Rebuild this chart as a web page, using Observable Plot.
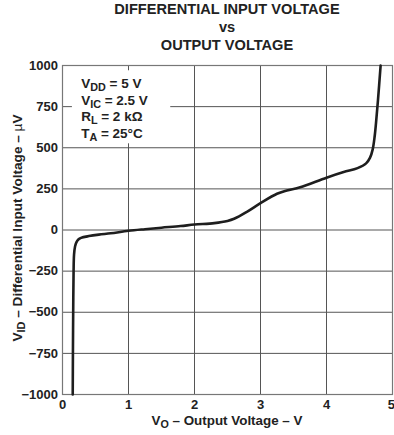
<!DOCTYPE html>
<html>
<head>
<meta charset="utf-8">
<script src="https://cdn.jsdelivr.net/npm/d3@7"></script>
<script src="https://cdn.jsdelivr.net/npm/@observablehq/plot@0.6"></script>
<style>
  html, body { margin: 0; padding: 0; background: #fff; }
  #chart svg { display: block; font-family: "Liberation Sans", Arial, sans-serif; }
</style>
</head>
<body>
<div id="chart"></div>
<script>
// Output voltage (V)
const vo = [0.155, 0.158, 0.162, 0.168, 0.175, 0.19, 0.21, 0.24, 0.28, 0.40, 0.55, 0.73, 1.0, 1.25, 1.5, 1.79, 2.0, 2.3, 2.5, 2.6, 2.8, 3.0, 3.25, 3.4, 3.6, 4.0, 4.26, 4.47, 4.6, 4.66, 4.70, 4.73, 4.75, 4.78, 4.82];
// Differential input voltage (µV)
const vid = [-1000, -750, -500, -250, -150, -100, -75, -58, -48, -37, -28, -20, -5, 5, 14, 24, 33, 42, 55, 68, 112, 163, 220, 240, 260, 318, 352, 376, 405, 440, 490, 570, 650, 790, 1000];
const xTicks = [0, 1, 2, 3, 4, 5];
const yTicks = [-1000, -750, -500, -250, 0, 250, 500, 750, 1000];
const titleLines = ["DIFFERENTIAL INPUT VOLTAGE", "vs", "OUTPUT VOLTAGE"];
const conditions = [
  [["V"], ["DD", "sub"], [" = 5 V"]],
  [["V"], ["IC", "sub"], [" = 2.5 V"]],
  [["R"], ["L", "sub"], [" = 2 kΩ"]],
  [["T"], ["A", "sub"], [" = 25°C"]]
];
const xLabel = [["V"], ["O", "sub"], [" – Output Voltage – V"]];
const yLabel = [["V"], ["ID", "sub"], [" – Differential Input Voltage – "], ["µ", "thin"], ["V"]];

const data = vo.map((x, i) => ({x, y: vid[i]}));
const fmt = d => d < 0 ? "−" + Math.abs(d) : String(d);
const xMax = xTicks[xTicks.length - 1];

const chart = Plot.plot({
  width: 394,
  height: 435,
  marginLeft: 62,
  marginRight: 2,
  marginTop: 65,
  marginBottom: 41,
  style: {fontFamily: "Liberation Sans, Arial, sans-serif", fontSize: "13px", fontWeight: "bold", color: "#222", background: "#fff"},
  x: {domain: [0, 5]},
  y: {domain: [-1000, 1000]},
  marks: [
    Plot.ruleX(xTicks, {stroke: "#555", strokeWidth: 1, strokeOpacity: 1}),
    Plot.ruleY(yTicks, {stroke: "#555", strokeWidth: 1, strokeOpacity: 1}),
    Plot.frame({stroke: "#777", strokeWidth: 1.2}),
    Plot.rect([{x1: 0.15, x2: 1.64, y1: 524, y2: 968}], {x1: "x1", x2: "x2", y1: "y1", y2: "y2", fill: "#fff"}),
    Plot.axisX(xTicks.filter(d => d !== xMax), {tickSize: 0, tickPadding: 5.5, label: null, tickFormat: d => String(d), fontWeight: "bold"}),
    Plot.axisX([xMax], {tickSize: 0, tickPadding: 5.5, label: null, tickFormat: d => String(d), fontWeight: "bold", textAnchor: "end", dx: 2.5}),
    Plot.axisY(yTicks, {tickSize: 0, tickPadding: 4.5, label: null, tickFormat: fmt, fontWeight: "bold"}),
    Plot.line(data, {x: "x", y: "y", curve: "catmull-rom", stroke: "#1e1e1e", strokeWidth: 2.6})
  ]
});
document.getElementById("chart").append(chart);

const svg = d3.select(chart);
const xs = chart.scale("x"), ys = chart.scale("y");

function rich(parent, segs, x, y, opts = {}) {
  const size = opts.size || 13;
  const t = parent.append("text")
    .attr("x", x).attr("y", y)
    .attr("font-family", "Liberation Sans, Arial, sans-serif")
    .attr("font-weight", "bold")
    .attr("font-size", size)
    .attr("fill", "#222")
    .attr("text-anchor", opts.anchor || "start");
  if (opts.rotate) t.attr("transform", `rotate(${opts.rotate},${x},${y})`);
  let shifted = false;
  for (const [s, kind] of segs) {
    const ts = t.append("tspan").text(s);
    if (kind === "sub") {
      ts.attr("font-size", size * 0.8).attr("dy", 3);
      shifted = true;
    } else {
      if (shifted) { ts.attr("dy", -3); shifted = false; }
      if (kind === "thin") ts.attr("font-weight", "normal");
    }
  }
  return t;
}

// Title
const titleY = [13.5, 31.5, 50];
titleLines.forEach((s, i) => {
  svg.append("text")
    .attr("x", (xs.apply(0) + xs.apply(5)) / 2)
    .attr("y", titleY[i])
    .attr("text-anchor", "middle")
    .attr("font-family", "Liberation Sans, Arial, sans-serif")
    .attr("font-weight", "bold")
    .attr("font-size", 14.6)
    .attr("fill", "#222")
    .text(s);
});

// Conditions box text
conditions.forEach((segs, i) => {
  rich(svg, segs, xs.apply(0.29), 88 + i * 16.7, {size: 13.5});
});

// Axis labels
rich(svg, xLabel, (xs.apply(0) + xs.apply(5)) / 2, 424.5, {anchor: "middle", size: 13.4});
rich(svg, yLabel, 22, 228, {anchor: "middle", size: 13.6, rotate: -90});
</script>
</body>
</html>
